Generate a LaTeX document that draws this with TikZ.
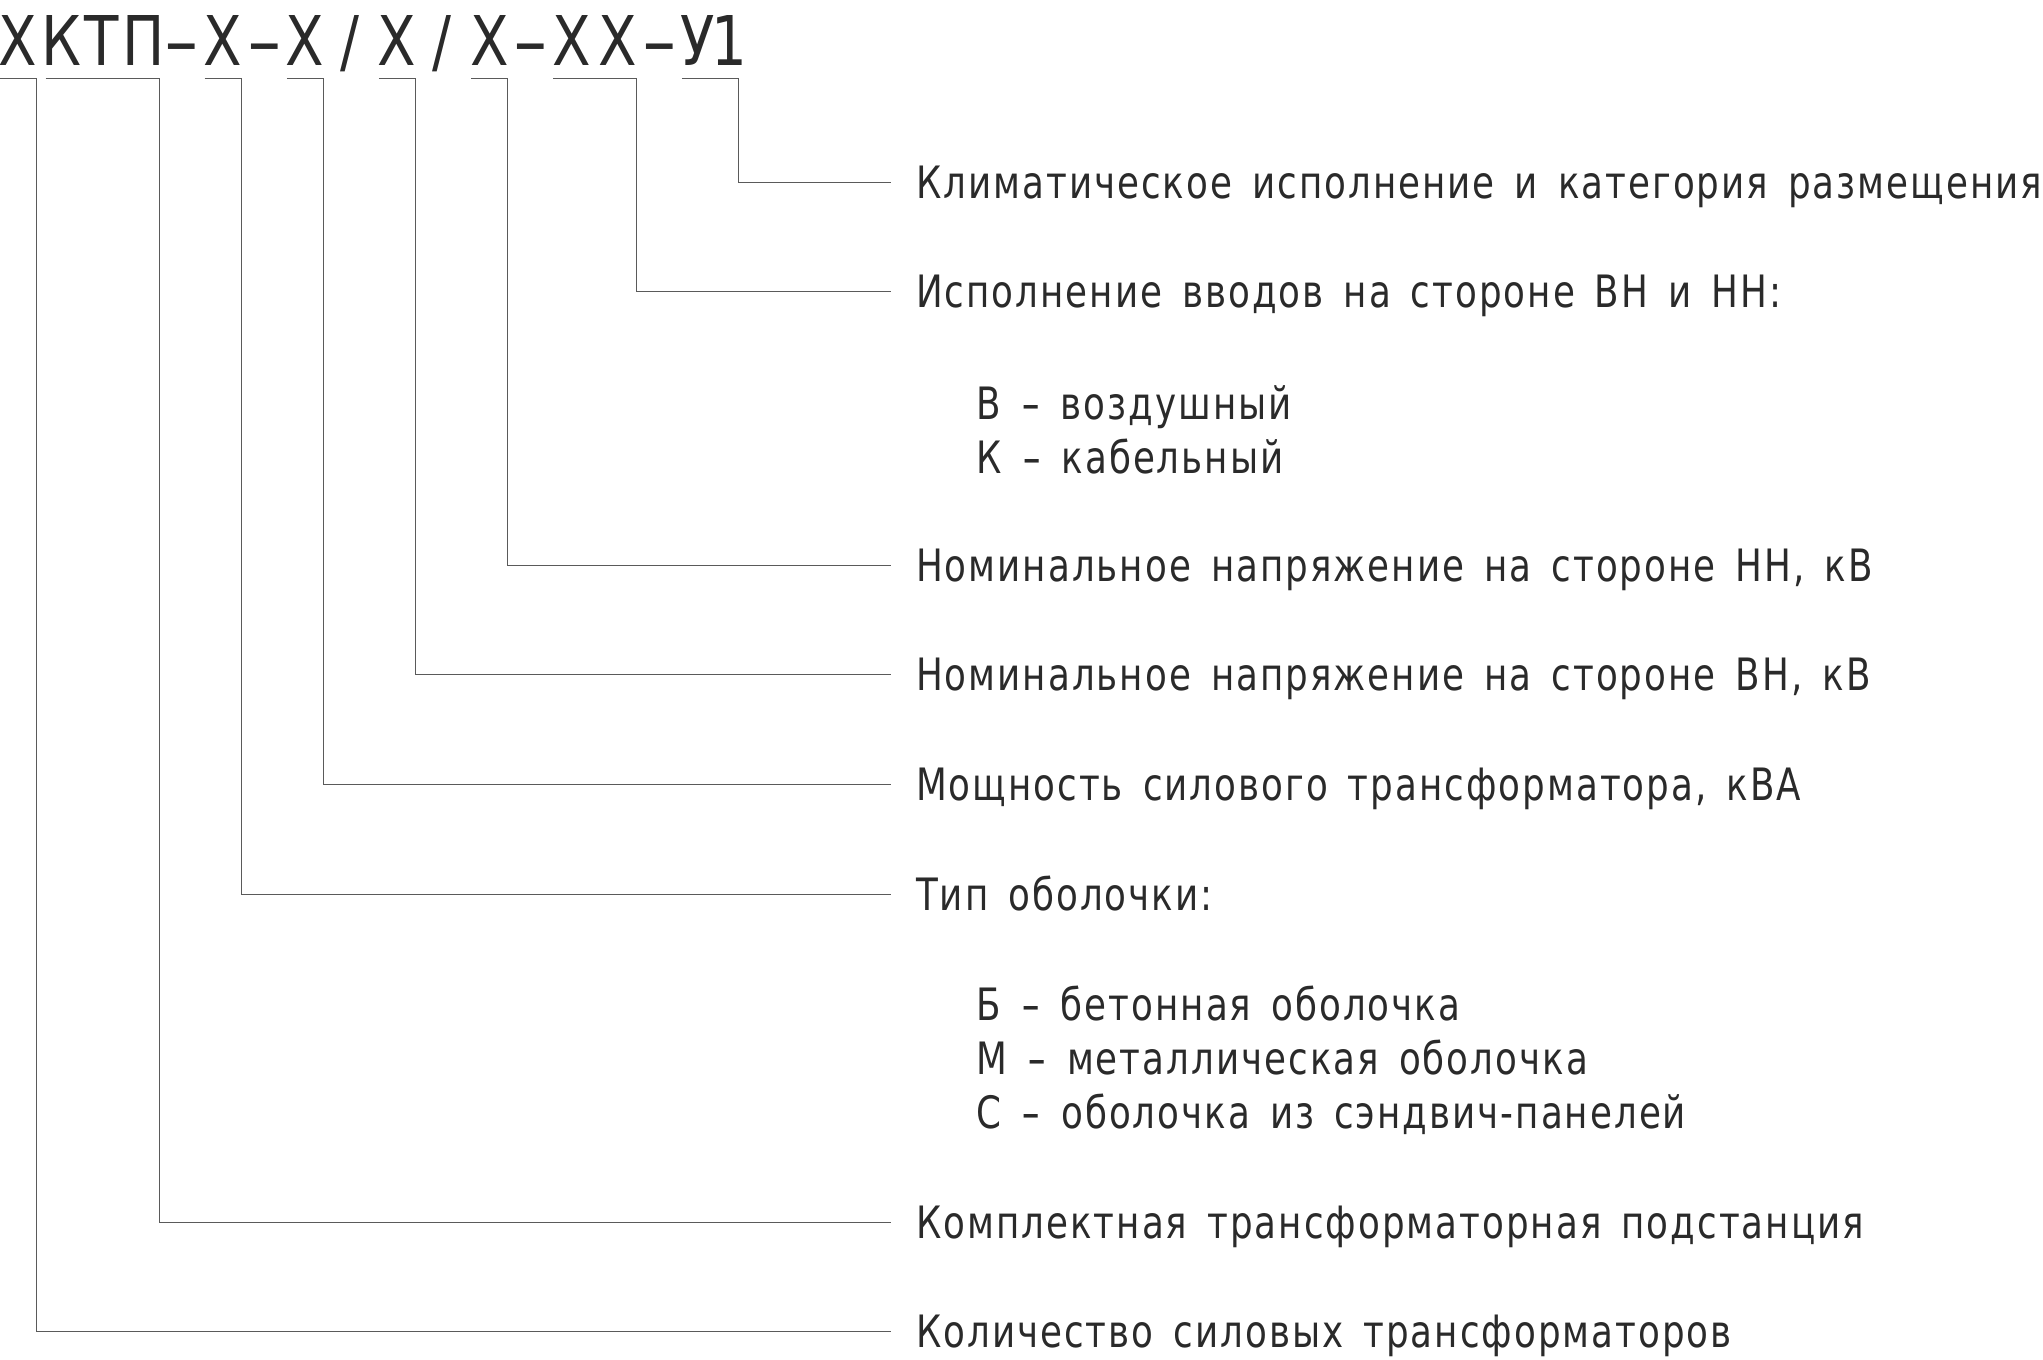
\documentclass[tikz,border=0pt]{standalone}
\usepackage{graphicx}
\usepackage{fontspec}
\newfontfamily\lblfont[FakeStretch=0.8,LetterSpace=4.5,WordSpace=1.5]{DejaVu Sans}
\newfontfamily\ttlfont[FakeStretch=0.82]{DejaVu Sans}
\definecolor{ink}{HTML}{2A2A2A}
\definecolor{wire}{HTML}{5A5A5A}
\newcommand{\wdash}{\scalebox{1.5}[1]{-}}
\newcommand{\tdash}{\scalebox{1.8}[1]{-}}
\begin{document}
\begin{tikzpicture}[x=0.5pt,y=-0.5pt,
  tg/.style={inner sep=0pt, anchor=base, text depth=6.15pt, text=ink,
    font=\ttlfont\fontsize{34.3pt}{40pt}\selectfont},
  lbl/.style={anchor=west, inner xsep=12.5pt, inner ysep=0pt, text height=16.25pt,
    text depth=0pt, text=ink, font=\lblfont\fontsize{22.3pt}{27pt}\selectfont},
  sub/.style={lbl, inner xsep=0pt},
  conn/.style={draw=wire, line width=0.5pt}]
\useasboundingbox (0,0) rectangle (2043,1359);

% title glyphs
\node[tg, minimum width=17.85pt] (tX1) at (17.85,66) {\makebox[0pt]{Х}};
\node[tg, minimum width=15.5pt]  (tK)  at (61.5,66)  {\makebox[0pt]{К}};
\node[tg, minimum width=13pt]    (tT)  at (102,66)   {\makebox[0pt]{Т}};
\node[tg, minimum width=15.35pt] (tP)  at (143.35,66) {\makebox[0pt]{П}};
\node[tg] (d1) at (181.5,66) {\makebox[0pt]{\tdash}};
\node[tg, minimum width=17.85pt] (tX2) at (222.85,66) {\makebox[0pt]{Х}};
\node[tg] (d2) at (264.5,66) {\makebox[0pt]{\tdash}};
\node[tg, minimum width=17.7pt]  (tX3) at (305,66)   {\makebox[0pt]{Х}};
\node[tg] (s1) at (350,66) {\makebox[0pt]{/}};
\node[tg, minimum width=17.85pt] (tX4) at (397.15,66) {\makebox[0pt]{Х}};
\node[tg] (s2) at (442,66) {\makebox[0pt]{/}};
\node[tg, minimum width=17.8pt]  (tX5) at (489.5,66) {\makebox[0pt]{Х}};
\node[tg] (d3) at (530.5,66) {\makebox[0pt]{\tdash}};
\node[tg, minimum width=18.15pt] (tX6) at (571.85,66) {\makebox[0pt]{Х}};
\node[tg, minimum width=17.85pt] (tX7) at (617.85,66) {\makebox[0pt]{Х}};
\node[tg] (d4) at (659.5,66) {\makebox[0pt]{\tdash}};
\node[tg, minimum width=15.35pt] (tU)  at (697.65,66) {\makebox[0pt]{У}};
\node[tg, minimum width=5.15pt]  (t1)  at (733.15,66) {\makebox[0pt]{1\kern4pt}};

% labels
\node[lbl] (Lklim)  at (890.7,182.3) {Климатическое исполнение и категория размещения};
\node[lbl] (Lisp)   at (890.7,291.7) {Исполнение вводов на стороне ВН и НН:};
\node[sub] (Lisp1)  at (976.5,403)   {В \wdash{} воздушный};
\node[sub] (Lisp2)  at (976.5,457)   {К \wdash{} кабельный};
\node[lbl] (Lnn)    at (890.7,565)   {Номинальное напряжение на стороне НН, кВ};
\node[lbl] (Lvn)    at (890.7,674.3) {Номинальное напряжение на стороне ВН, кВ};
\node[lbl] (Lmosh)  at (890.7,784)   {Мощность силового трансформатора, кВА};
\node[lbl] (Ltip)   at (890.7,894.3) {Тип оболочки:};
\node[sub] (Ltip1)  at (976.5,1004)  {Б \wdash{} бетонная оболочка};
\node[sub] (Ltip2)  at (976.5,1058)  {М \wdash{} металлическая оболочка};
\node[sub] (Ltip3)  at (976.5,1112)  {С \wdash{} оболочка из сэндвич-панелей};
\node[lbl] (Lkompl) at (890.7,1222)  {Комплектная трансформаторная подстанция};
\node[lbl] (Lkol)   at (890.7,1331)  {Количество силовых трансформаторов};

% connectors
\draw[conn] (tU.south west)  -- (t1.south east)  |- (Lklim.west);
\draw[conn] (tX6.south west) -- (tX7.south east) |- (Lisp.west);
\draw[conn] (tX5.south west) -- (tX5.south east) |- (Lnn.west);
\draw[conn] (tX4.south west) -- (tX4.south east) |- (Lvn.west);
\draw[conn] (tX3.south west) -- (tX3.south east) |- (Lmosh.west);
\draw[conn] (tX2.south west) -- (tX2.south east) |- (Ltip.west);
\draw[conn] (tK.south west)  -- (tP.south east)  |- (Lkompl.west);
\draw[conn] (tX1.south west) -- (tX1.south east) |- (Lkol.west);
\end{tikzpicture}
\end{document}
